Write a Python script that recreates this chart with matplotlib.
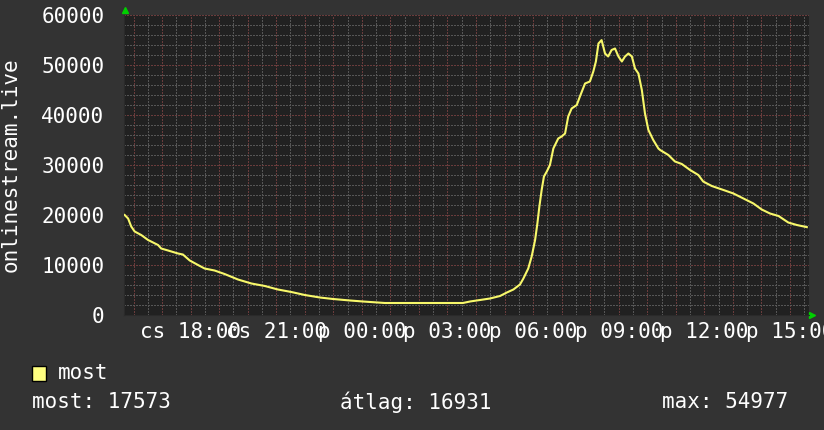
import matplotlib
matplotlib.use("Agg")
import numpy as np
import matplotlib.pyplot as plt
from matplotlib.ticker import FixedLocator, NullFormatter

# hours since Thursday 00:00
hours = [15.69, 15.81, 15.92, 16.04, 16.27, 16.51, 16.86, 16.97, 17.21, 17.56, 17.73, 17.97,
         18.26, 18.49, 18.84, 19.19, 19.66, 20.13, 20.60, 21.06, 21.53, 22.00, 22.53, 22.99,
         23.59, 24.04, 24.81, 26.49, 27.54, 27.79, 28.14, 28.49, 28.84, 29.08, 29.31, 29.54,
         29.66, 29.83, 29.95, 30.07, 30.15, 30.22, 30.30, 30.38, 30.48, 30.59, 30.71, 30.88,
         31.00, 31.12, 31.23, 31.35, 31.53, 31.64, 31.82, 31.99, 32.11, 32.20, 32.29, 32.40,
         32.52, 32.63, 32.75, 32.87, 32.99, 33.11, 33.22, 33.34, 33.46, 33.57, 33.69, 33.81,
         33.92, 34.04, 34.21, 34.39, 34.45, 34.74, 34.97, 35.21, 35.50, 35.79, 35.96, 36.26,
         36.67, 37.02, 37.37, 37.72, 38.01, 38.30, 38.60, 38.94, 39.24, 39.59]
values = [20000, 19300, 17700, 16700, 16000, 15000, 14000, 13300, 12900, 12300, 12100, 10900,
          10000, 9300, 8900, 8200, 7100, 6300, 5800, 5100, 4600, 4000, 3500, 3200,
          2900, 2700, 2400, 2400, 2400, 2700, 3000, 3300, 3800, 4500, 5100, 6100,
          7300, 9300, 11700, 15000, 18300, 21700, 25000, 27700, 28700, 30000, 33300, 35300,
          35700, 36300, 39700, 41300, 42000, 43700, 46300, 46700, 48700, 50700, 54300, 54977,
          52300, 51700, 53000, 53300, 51700, 50700, 51700, 52300, 51700, 49300, 48300, 45000,
          40300, 37000, 35000, 33300, 33000, 32000, 30700, 30200, 29000, 28000, 26700, 25800,
          25000, 24300, 23300, 22300, 21100, 20300, 19800, 18500, 18000, 17573]

tick_hours = [18, 21, 24, 27, 30, 33, 36, 39]
tick_labels = ["cs 18:00", "cs 21:00", "p 00:00", "p 03:00", "p 06:00", "p 09:00", "p 12:00", "p 15:00"]
y_ticks = [0, 10000, 20000, 30000, 40000, 50000, 60000]
series_name = "most"
stat_texts = ["most: 17573", "átlag: 16931", "max: 54977"]
y_title = "onlinestream.live"

BG = "#333333"
CANVAS = "#212121"
MINOR = "#565656"
MAJOR = "#6a3c3c"
LINE = "#f8f86a"
FONT = "DejaVu Sans Mono"

W, H = 824, 430
fig = plt.figure(figsize=(W / 100, H / 100), dpi=100, facecolor=BG)
ax = fig.add_axes([124 / W, (H - 315) / H, 685 / W, 300 / H])
ax.set_facecolor(CANVAS)

x0, x1 = 15 + 40 / 60, 39 + 40 / 60
ax.set_xlim(x0, x1)
ax.set_ylim(0, 60000)

x_major = np.arange(16, 40, 1.0)
x_minor = np.arange(15.5, 40, 1.0)
y_minor = [v for v in range(0, 60001, 2000) if v % 10000 != 0]

ax.xaxis.set_major_locator(FixedLocator(x_major))
ax.xaxis.set_minor_locator(FixedLocator(x_minor))
ax.xaxis.set_major_formatter(NullFormatter())
ax.yaxis.set_major_locator(FixedLocator(y_ticks))
ax.yaxis.set_minor_locator(FixedLocator(y_minor))
ax.set_yticklabels([str(v) for v in y_ticks], fontfamily=FONT, fontsize=15, color="white")

dash = (0, (2, 2))
ax.grid(which="minor", color=MINOR, linewidth=0.72, linestyle=dash, antialiased=False)
ax.grid(which="major", color=MAJOR, linewidth=0.72, linestyle=dash, antialiased=False)
ax.set_axisbelow(True)

ax.plot(hours, values, color=LINE, linewidth=1.5, zorder=3)

ax.tick_params(which="both", length=0)
ax.tick_params(axis="y", pad=14)
for h, lab in zip(tick_hours, tick_labels):
    ax.text(h, -0.023, lab, transform=ax.get_xaxis_transform(), ha="center", va="top",
            fontfamily=FONT, fontsize=15, color="white", clip_on=False)

for s in ["top", "right"]:
    ax.spines[s].set_visible(False)
ax.spines["left"].set_color("#2a2a2a")
ax.spines["bottom"].set_color("#2a2a2a")

# green arrows
ax.plot([0.002], [1.017], marker="^", color="#00d000", markersize=5, transform=ax.transAxes, clip_on=False)
ax.plot([1.004], [0], marker=">", color="#00d000", markersize=5, transform=ax.transAxes, clip_on=False)

fig.text(11 / W, 1 - 165 / H, y_title, rotation=90, ha="center", va="center",
         fontfamily=FONT, fontsize=15, color="white")

# legend
fig.patches.append(plt.Rectangle((32 / W, 1 - 381 / H), 14 / W, 15 / H, transform=fig.transFigure,
                                 facecolor="#ffff80", edgecolor="black", linewidth=1))
fig.text(58 / W, 1 - 373 / H, series_name, ha="left", va="center", fontfamily=FONT,
         fontsize=15, color="white")
fig.text(32 / W, 1 - 402 / H, stat_texts[0], ha="left", va="center", fontfamily=FONT, fontsize=15, color="white")
fig.text(340 / W, 1 - 402 / H, stat_texts[1], ha="left", va="center", fontfamily=FONT, fontsize=15, color="white")
fig.text(662 / W, 1 - 402 / H, stat_texts[2], ha="left", va="center", fontfamily=FONT, fontsize=15, color="white")

fig.savefig("out.png", dpi=100, facecolor=BG)
